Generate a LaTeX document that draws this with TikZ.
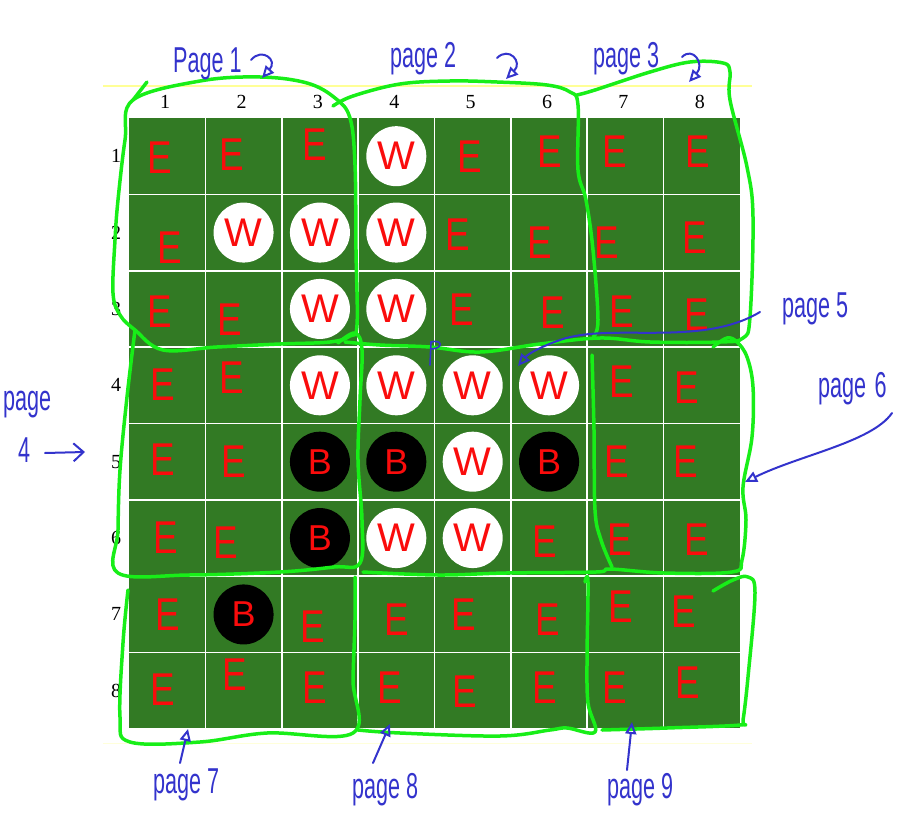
\documentclass[tikz,border=0pt]{standalone}
\usepackage{fontspec}
\newfontfamily\penfont{Liberation Sans}
\newfontfamily\rulerfont{Liberation Serif}
\usetikzlibrary{arrows.meta}
\definecolor{boardgreen}{RGB}{50,122,36}
\definecolor{pengreen}{RGB}{24,238,24}
\definecolor{penblue}{RGB}{51,51,204}
\definecolor{penred}{RGB}{250,12,12}
\definecolor{rulerline}{RGB}{255,255,150}
\tikzset{
  cellE/.style={text=penred, inner sep=0pt, xscale=0.8,
    font=\penfont\fontsize{46}{46}\selectfont},
  disc/.style={circle, minimum size=60pt, inner sep=0pt, text=penred},
  whitedisc/.style={disc, fill=white, font=\penfont\fontsize{40}{40}\selectfont},
  blackdisc/.style={disc, fill=black, font=\penfont\fontsize{36}{36}\selectfont},
  coordlabel/.style={inner sep=0pt, font=\rulerfont\fontsize{20}{24}\selectfont},
  outline/.style={pengreen, line width=3.5pt, line cap=round, line join=round},
  note/.style={text=penblue, anchor=base west, inner sep=0pt, xscale=0.6,
    font=\penfont\fontsize{36}{36}\selectfont},
  pointer/.style={penblue, line width=2pt, line cap=round,
    -{Triangle[open, length=12pt, width=11pt]}},
}
\begin{document}
\begin{tikzpicture}[x=1pt, y=-1pt]
\useasboundingbox (0,0) rectangle (923,821);
% faint guide lines
\draw[rulerline, line width=2pt] (103,86) -- (752,86);
\draw[rulerline!35, line width=1pt] (103,743) -- (752,743);
% board
\fill[boardgreen] (129,118) rectangle (740,728);
\foreach \i in {1,...,7} {
  \draw[white, line width=1.6pt] ({129+\i*76.375},118) -- ({129+\i*76.375},728);
  \draw[white, line width=1.6pt] (129,{118+\i*76.375}) -- (740,{118+\i*76.375});
}
\foreach \i in {1,...,8} {
  \node[coordlabel] (col-\i) at ({127+(\i-0.5)*76.375},102) {\i};
  \node[coordlabel] (row-\i) at (116,{118+(\i-0.5)*76.375}) {\i};
}
% pieces
\foreach \r/\c in {1/4,2/2,2/3,2/4,3/3,3/4,4/3,4/4,4/5,4/6,5/5,6/4,6/5}
  \node[whitedisc] (w-\r-\c) at ({129+(\c-0.5)*76.375},{118+(\r-0.5)*76.375}) {W};
\foreach \r/\c in {5/3,5/4,5/6,6/3,7/2}
  \node[blackdisc] (b-\r-\c) at ({129+(\c-0.5)*76.375},{118+(\r-0.5)*76.375}) {B};
% empty squares
\foreach \r/\c/\x/\y in {1/1/160/158,1/2/232/155,1/3/315/145,1/5/470/157,1/6/550/152,1/7/615/152,1/8/698/152,
  2/1/170/248,2/5/458/235,2/6/540/243,2/7/607/243,2/8/695/238,
  3/1/160/312,3/2/230/320,3/5/462/310,3/6/553/313,3/7/622/312,3/8/697/315,
  4/1/163/385,4/2/232/378,4/7/622/382,4/8/687/388,
  5/1/163/460,5/2/234/462,5/7/617/462,5/8/686/462,
  6/1/166/538,6/2/226/543,6/6/545/542,6/7/620/540,6/8/697/540,
  7/1/168/615,7/3/313/627,7/4/397/620,7/5/464/615,7/6/548/620,7/7/621/607,7/8/684/612,
  8/1/163/690,8/2/235/675,8/3/315/688,8/4/390/688,8/5/465/692,8/6/545/688,8/7/615/688,8/8/688/683}
  \node[cellE] (e-\r-\c) at (\x,\y) {E};
% green page outlines
\draw[outline] plot[smooth cycle, tension=0.6] coordinates {(133,100) (200,81) (260,77) (307,83) (335,98)
  (350,118) (355,165) (356,250) (357,325) (350,336) (330,342) (280,344) (217,347) (163,350) (135,330)
  (120,315) (113,293) (115,240) (118,200) (125,140)};
\draw[outline] (147,82) -- (133,100);
\draw[outline] plot[smooth, tension=0.6] coordinates {(333,106) (353,96) (400,84) (450,81) (497,82)
  (547,85) (570,92) (578,105) (578,170) (586,200) (593,250) (598,320) (593,337)};
\draw[outline] plot[smooth, tension=0.6] coordinates {(577,95) (595,90) (650,72) (690,62) (723,63)
  (730,72) (730,100) (747,167) (753,217) (750,317) (743,338) (720,342) (650,342) (600,338) (540,344)
  (480,352) (430,347) (380,345) (345,342)};
\draw[outline] plot[smooth, tension=0.6] coordinates {(135,330) (127,397) (120,470) (118,530) (118,573)
  (189,575) (280,572) (334,567) (360,563) (362,520) (358,460) (360,400) (362,350) (355,333) (338,343)};
\draw[outline] plot[smooth, tension=0.6] coordinates {(363,572) (438,575) (506,573) (596,572) (610,569)
  (664,573) (732,572) (742,560) (746,520) (743,487) (752,437) (753,387) (747,357) (737,342) (727,338)
  (713,347)};
\draw[outline] plot[smooth, tension=0.6] coordinates {(592,355) (594,430) (595,510) (601,540) (612,567)};
\draw[outline] plot[smooth, tension=0.6] coordinates {(128,590) (123,643) (120,717) (130,742) (200,742)
  (267,733) (353,733) (353,680) (355,620) (355,577)};
\draw[outline] plot[smooth, tension=0.6] coordinates {(358,730) (400,733) (500,736) (550,730) (567,728)
  (595,732) (588,703) (587,660) (588,582) (585,582)};
\draw[outline] plot[smooth, tension=0.6] coordinates {(602,730) (667,728) (740,725) (743,720) (748,677)
  (755,593) (748,577) (733,580) (713,591)};
% blue notes
\node[note] (lab1) at (173,73) {Page 1};
\node[note] (lab2) at (390,68) {page 2};
\node[note] (lab3) at (593,68) {page 3};
\node[note] (lab4) at (3,410) {page};
\node[note] (lab4n) at (18,462) {4};
\node[note] (lab5) at (782,317) {page 5};
\node[note] (lab6) at (818,397) {page\hspace{14pt}6};
\node[note] (lab7) at (153,793) {page 7};
\node[note] (lab8) at (352,798) {page 8};
\node[note] (lab9) at (607,798) {page 9};
\coordinate (hook1) at (251,60);  \coordinate (tip1) at (262,78);
\coordinate (hook2) at (497,58);  \coordinate (tip2) at (506,79);
\coordinate (hook3) at (682,57);  \coordinate (tip3) at (689,82);
\coordinate (tail4) at (45,453);  \coordinate (tip4) at (85,452);
\coordinate (tail5) at (760,312); \coordinate (tip5) at (518,366);
\coordinate (tail6) at (892,413); \coordinate (tip6) at (745,482);
\coordinate (tail7) at (180,763); \coordinate (tip7) at (188,729);
\coordinate (tail8) at (373,763); \coordinate (tip8) at (390,724);
\coordinate (tail9) at (627,770); \coordinate (tip9) at (632,722);
\draw[pointer] (hook1) .. controls (262,47) and (278,60) .. (tip1);
\draw[pointer] (hook2) .. controls (509,46) and (523,62) .. (tip2);
\draw[pointer] (hook3) .. controls (693,46) and (705,64) .. (tip3);
\draw[pointer, -{Straight Barb[length=10pt, width=18pt]}] (tail4) -- (tip4);
\draw[pointer] (tail5) .. controls (700,348) and (610,322) .. (560,340)
  .. controls (540,347) and (528,354) .. (tip5);
\draw[pointer] (tail6) .. controls (872,442) and (800,455) .. (tip6);
\draw[pointer] (tail7) -- (tip7);
\draw[pointer] (tail8) -- (tip8);
\draw[pointer] (tail9) -- (tip9);
% stray pen mark
\draw[penblue, line width=1.6pt, line cap=round] (430,365) -- (431,342) .. controls (442,339) and (444,348) .. (432,349);
\end{tikzpicture}
\end{document}
